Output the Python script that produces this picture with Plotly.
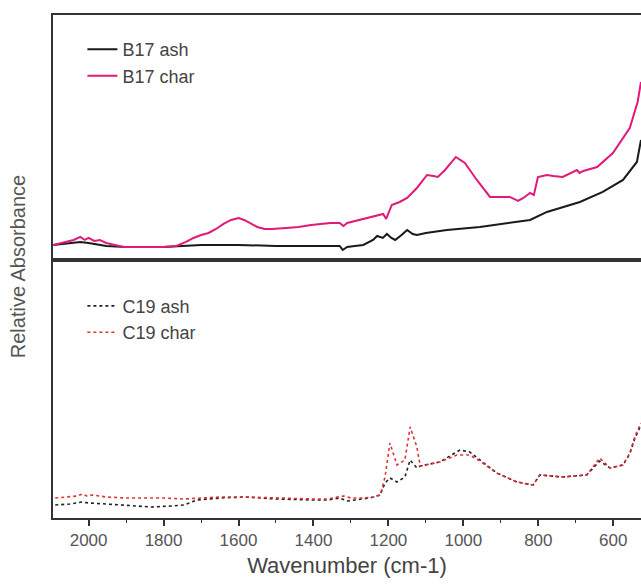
import plotly.graph_objects as go
from plotly.subplots import make_subplots

# B17 (top panel) - wavenumber (cm-1) and relative absorbance
b17_char_wn = [2094, 2070, 2040, 2022, 2010, 2000, 1985, 1970, 1953, 1930, 1907, 1850, 1800, 1766,
               1740, 1720, 1700, 1680, 1660, 1640, 1620, 1600, 1585, 1570, 1550, 1530, 1511, 1473,
               1440, 1406, 1380, 1355, 1330, 1320, 1310, 1290, 1267, 1240, 1214, 1206, 1191, 1170,
               1150, 1124, 1097, 1080, 1068, 1049, 1020, 996, 964, 929, 900, 876, 854, 840,
               822, 812, 801, 777, 760, 735, 697, 690, 680, 643, 601, 556, 535, 526]
b17_char = [15, 17, 20, 23, 20, 22, 19, 20, 17, 15, 13, 13, 13, 14,
            18, 22, 25, 27, 31, 36, 40, 42, 40, 37, 33, 31, 31, 32,
            33, 35, 36, 37, 37, 34, 37, 39, 41, 44, 46, 41, 55, 58,
            62, 72, 85, 84, 83, 90, 103, 97, 80, 63, 63, 63, 59, 62,
            67, 65, 83, 85, 84, 83, 90, 87, 89, 93, 107, 132, 158, 178]

b17_ash_wn = [2094, 2040, 2022, 2000, 1953, 1900, 1800, 1700, 1600, 1500, 1400, 1355, 1330, 1322,
              1310, 1290, 1267, 1241, 1230, 1215, 1204, 1192, 1182, 1165, 1150, 1135, 1124, 1100,
              1044, 956, 868, 822, 777, 689, 628, 574, 537, 526]
b17_ash = [15, 17, 18, 17, 14, 13, 13, 15, 15, 14, 14, 14, 14, 10,
           13, 14, 15, 20, 24, 22, 26, 22, 20, 25, 30, 26, 25, 27,
           30, 33, 38, 40, 48, 58, 68, 80, 98, 120]

# C19 (bottom panel)
c19_char_wn = [2089, 2060, 2030, 2017, 2005, 1990, 1953, 1900, 1850, 1800, 1745, 1700, 1650, 1582,
               1500, 1450, 1400, 1364, 1340, 1320, 1300, 1270, 1240, 1222, 1209, 1196, 1177, 1156,
               1142, 1124, 1115, 1063, 1017, 983, 960, 911, 857, 814, 796, 735, 671, 636,
               609, 574, 556, 542, 526]
c19_char = [20, 21, 22, 24, 22, 23, 21, 20, 20, 20, 19, 20, 21, 21,
            20, 19, 19, 19, 21, 22, 20, 20, 21, 23, 41, 75, 53, 58,
            91, 71, 52, 56, 63, 63, 58, 45, 36, 33, 43, 41, 43, 60,
            50, 53, 65, 82, 95]

c19_ash_wn = [2089, 2050, 2017, 2000, 1953, 1900, 1832, 1780, 1745, 1712, 1650, 1582, 1500, 1400,
              1364, 1330, 1310, 1290, 1250, 1222, 1209, 1196, 1177, 1156, 1142, 1124, 1115, 1063,
              1009, 983, 960, 911, 857, 814, 796, 735, 671, 636, 609, 574, 556, 542, 526]
c19_ash = [13, 14, 16, 15, 14, 13, 11, 12, 13, 18, 20, 21, 19, 18,
           18, 20, 17, 18, 20, 23, 35, 40, 36, 41, 58, 50, 52, 56,
           68, 66, 59, 45, 36, 33, 43, 41, 43, 57, 50, 53, 64, 80, 93]

AXIS_COLOR = '#333333'
TEXT_COLOR = '#555555'

fig = make_subplots(rows=2, cols=1, shared_xaxes=True, vertical_spacing=0)

fig.add_trace(go.Scatter(x=b17_ash_wn, y=b17_ash, name='B17 ash', mode='lines',
                         line=dict(color='#1a1a1a', width=2), legend='legend'), row=1, col=1)
fig.add_trace(go.Scatter(x=b17_char_wn, y=b17_char, name='B17 char', mode='lines',
                         line=dict(color='#e2197a', width=2), legend='legend'), row=1, col=1)
fig.add_trace(go.Scatter(x=c19_ash_wn, y=c19_ash, name='C19 ash', mode='lines',
                         line=dict(color='#222222', width=1.6, dash='dot'), legend='legend2'), row=2, col=1)
fig.add_trace(go.Scatter(x=c19_char_wn, y=c19_char, name='C19 char', mode='lines',
                         line=dict(color='#e0303a', width=1.6, dash='dot'), legend='legend2'), row=2, col=1)

split = 0.513
fig.update_layout(
    width=641, height=588,
    margin=dict(l=53, r=0, t=15, b=70),
    paper_bgcolor='white', plot_bgcolor='white',
    font=dict(family='Arial, Liberation Sans, sans-serif', size=17, color=TEXT_COLOR),
    yaxis=dict(domain=[split, 1], range=[0, 245], showticklabels=False, ticks='',
               showgrid=False, zeroline=False, showline=True, linecolor=AXIS_COLOR, linewidth=2),
    yaxis2=dict(domain=[0, split], range=[0, 258], showticklabels=False, ticks='',
                showgrid=False, zeroline=False, showline=True, linecolor=AXIS_COLOR, linewidth=2),
    xaxis=dict(range=[2095, 526], showgrid=False, zeroline=False, showline=True, mirror=True,
               linecolor=AXIS_COLOR, linewidth=2, ticks='', showticklabels=False),
    xaxis2=dict(range=[2095, 526], showgrid=False, zeroline=False, showline=True, mirror=True,
                linecolor=AXIS_COLOR, linewidth=2, ticks='outside', ticklen=6, tickwidth=1.5,
                tickcolor=AXIS_COLOR, tick0=0, dtick=200,
                minor=dict(ticks='outside', ticklen=3, tickwidth=1.2, tickcolor=AXIS_COLOR, dtick=100),
                tickfont=dict(size=17, color=TEXT_COLOR),
                title=dict(text='Wavenumber (cm-1)', font=dict(size=22, color='#444444'), standoff=8)),
    legend=dict(x=0.05, y=0.968, xanchor='left', yanchor='top', bgcolor='rgba(0,0,0,0)',
                font=dict(size=18, color='#444444'), tracegroupgap=0),
    legend2=dict(x=0.05, y=0.458, xanchor='left', yanchor='top', bgcolor='rgba(0,0,0,0)',
                 font=dict(size=18, color='#444444'), tracegroupgap=0),
    annotations=[dict(text='Relative Absorbance', xref='paper', yref='paper', x=-0.06, y=0.5,
                      xanchor='center', yanchor='middle', textangle=-90, showarrow=False,
                      font=dict(size=20, color='#555555'))],
)

# drop the default 8px body margin so the figure fills the window exactly
fig.write_html('out.html', config={'displayModeBar': False},
               post_script="document.body.style.margin='0';")
